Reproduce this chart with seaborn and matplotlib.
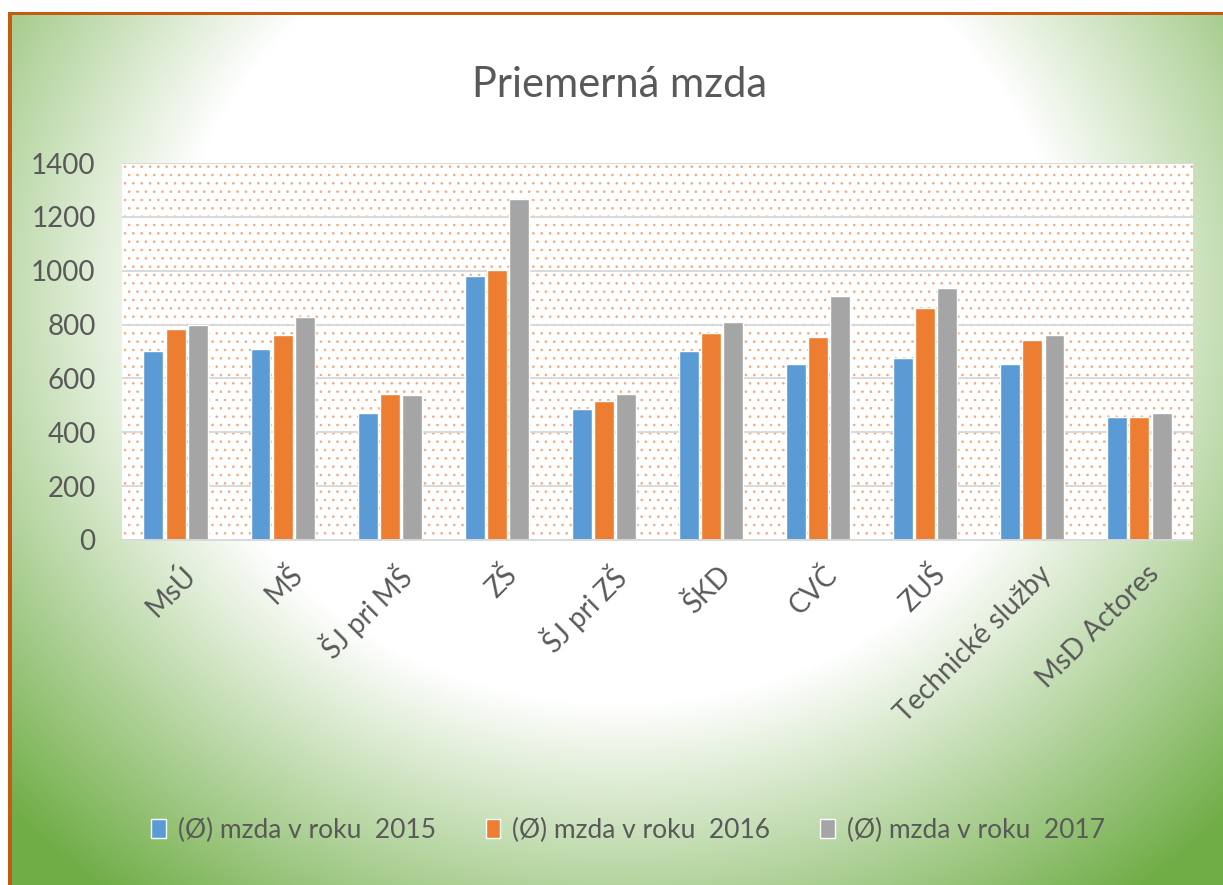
import numpy as np
import pandas as pd
import seaborn as sns
import matplotlib.pyplot as plt
from matplotlib.patches import Rectangle
from matplotlib.transforms import ScaledTranslation

categories = ['MsÚ', 'MŠ', 'ŠJ pri MŠ', 'ZŠ', 'ŠJ pri ZŠ', 'ŠKD', 'CVČ', 'ZUŠ',
              'Technické služby', 'MsD Actores']
mzda_2015 = [703, 710, 473, 979, 488, 703, 654, 675, 654, 458]
mzda_2016 = [782, 762, 543, 1001, 516, 769, 754, 863, 742, 458]
mzda_2017 = [797, 827, 537, 1267, 543, 811, 906, 936, 761, 472]
series_labels = ['(Ø) mzda v roku  2015', '(Ø) mzda v roku  2016', '(Ø) mzda v roku  2017']
colors = ['#5B9BD5', '#ED7D31', '#A5A5A5']

df = pd.DataFrame({
    'kategoria': categories * 3,
    'rok': [series_labels[0]] * 10 + [series_labels[1]] * 10 + [series_labels[2]] * 10,
    'mzda': mzda_2015 + mzda_2016 + mzda_2017,
})

sns.set_style('white')
plt.rcParams['font.family'] = ['Lato', 'DejaVu Sans']
plt.rcParams['hatch.linewidth'] = 0.6
txt = '#595959'

W, H = 1223, 885
fig = plt.figure(figsize=(W / 100, H / 100), dpi=100)

# slide background: white centre fading to green at the edges
x0, y0 = 8, 12
bg = fig.add_axes([0, 0, 1, 1])
bg.set_axis_off()
yy, xx = np.mgrid[0:H, 0:W]
d = np.sqrt(((xx - 620) / 620.0) ** 2 + ((yy - 300) / 560.0) ** 2)
t = np.clip((d - 0.72) / 0.62, 0, 1)[..., None]
green = np.array([0.44, 0.68, 0.28])
img = (1 - t) * np.ones(3) + t * green
img[:y0, :, :] = 1
img[:, :x0, :] = 1
bg.imshow(img, extent=[0, W, H, 0], aspect='auto')
bg.set_xlim(0, W)
bg.set_ylim(H, 0)
bg.add_patch(Rectangle((x0, y0), W - x0, 3, color='#C55A11', lw=0))
bg.add_patch(Rectangle((x0, y0), 4, H - y0, color='#C55A11', lw=0))

ax = fig.add_axes([122 / W, 1 - 540 / H, (1193 - 122) / W, (540 - 163) / H])
ax.add_patch(Rectangle((0, 0), 1, 1, transform=ax.transAxes, facecolor='white',
                       edgecolor='#F3A77A', hatch='..', lw=0, zorder=0))

sns.barplot(data=df, x='kategoria', y='mzda', hue='rok', palette=colors,
            width=0.62, gap=0.1, errorbar=None, saturation=1, ax=ax, zorder=2)

ax.set_ylim(0, 1400)
ax.set_yticks(range(0, 1401, 200))
ax.set_axisbelow(True)
ax.grid(axis='y', color='#D9D9D9', lw=1.4)
for s in ['top', 'right', 'left']:
    ax.spines[s].set_visible(False)
ax.spines['bottom'].set_color('#D9D9D9')
ax.spines['bottom'].set_linewidth(1.4)
ax.set_xlabel('')
ax.set_ylabel('')
ax.tick_params(axis='both', length=0, colors=txt, labelsize=20)
ax.tick_params(axis='y', pad=19)
ax.tick_params(axis='x', pad=15)
off = ScaledTranslation(6 / 100, 0, fig.dpi_scale_trans)
for lab in ax.get_xticklabels():
    lab.set_rotation(45)
    lab.set_ha('right')
    lab.set_rotation_mode('anchor')
    lab.set_transform(lab.get_transform() + off)

handles, labels = ax.get_legend_handles_labels()
ax.legend_.remove()
fig.legend(handles, labels, loc='center', bbox_to_anchor=(628 / W, 1 - 830 / H), ncol=3,
           frameon=False, fontsize=19, labelcolor=txt, handlelength=0.55, handleheight=0.7,
           handletextpad=0.45, columnspacing=1.9)

fig.text(620 / W, 1 - 85 / H, 'Priemerná mzda', ha='center', va='center',
         fontsize=30, color=txt)

fig.savefig('out.png', dpi=100)
